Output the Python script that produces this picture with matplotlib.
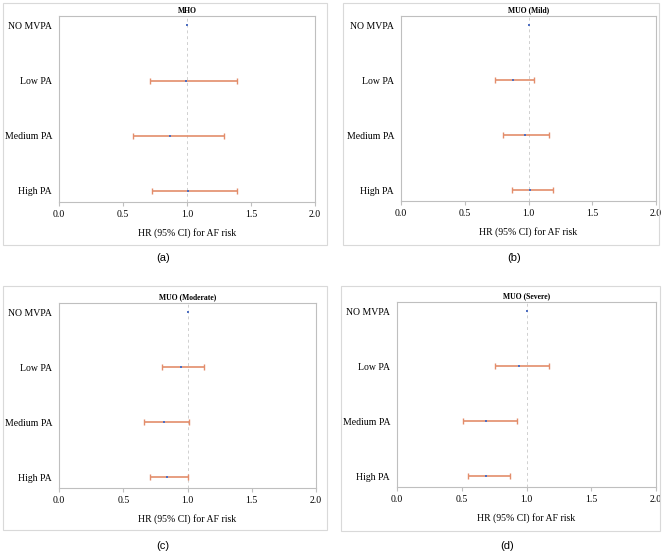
import numpy as np
import matplotlib.pyplot as plt
from matplotlib.patches import Rectangle

categories = ['NO MVPA', 'Low PA', 'Medium PA', 'High PA']

titles = ['MHO', 'MUO (Mild)', 'MUO (Moderate)', 'MUO (Severe)']
panel_tags = ['(a)', '(b)', '(c)', '(d)']

# hazard ratios and 95% CI per panel (order follows categories)
hr_a = [1.00, 0.99, 0.87, 1.01]
lo_a = [1.00, 0.71, 0.58, 0.73]
hi_a = [1.00, 1.39, 1.29, 1.39]

hr_b = [1.00, 0.88, 0.97, 1.01]
lo_b = [1.00, 0.74, 0.80, 0.87]
hi_b = [1.00, 1.04, 1.16, 1.19]

hr_c = [1.00, 0.95, 0.82, 0.84]
lo_c = [1.00, 0.80, 0.66, 0.71]
hi_c = [1.00, 1.13, 1.01, 1.00]

hr_d = [1.00, 0.94, 0.69, 0.69]
lo_d = [1.00, 0.76, 0.51, 0.55]
hi_d = [1.00, 1.17, 0.93, 0.87]

xticks = [0.0, 0.5, 1.0, 1.5, 2.0]

W, H = 669, 558
fig = plt.figure(figsize=(W / 100, H / 100), dpi=100)
fig.patch.set_facecolor('white')

# pixel boxes: (axes left, right, top, bottom), (border l, r, t, b), tag x, tag y
layout = [
    ((59, 315, 16, 202), (3, 327, 3, 245), 163, 258),
    ((401, 656, 16, 201), (343, 659, 3, 245), 514, 258),
    ((59, 316, 303, 488), (3, 327, 286, 530), 163, 546),
    ((397, 656, 302, 487), (341, 660, 286, 531), 507, 546),
]

data = [(hr_a, lo_a, hi_a), (hr_b, lo_b, hi_b), (hr_c, lo_c, hi_c), (hr_d, lo_d, hi_d)]

serif = 'Liberation Serif'
grey = '#BFBFBF'

for i in range(4):
    (al, ar, at, ab), (bl, br, bt, bb), tx, ty = layout[i]
    hr, lo, hi = data[i]

    fig.add_artist(Rectangle((bl / W, 1 - bb / H), (br - bl) / W, (bb - bt) / H,
                             transform=fig.transFigure, fill=False,
                             edgecolor='#D9D9D9', linewidth=0.8))

    ax = fig.add_axes([al / W, 1 - ab / H, (ar - al) / W, (ab - at) / H])
    ypos = np.arange(len(categories))[::-1]
    hr = np.array(hr)
    lo = np.array(lo)
    hi = np.array(hi)

    ax.axvline(1.0, color='#D0D0D0', linestyle=(0, (3, 3)), linewidth=0.7, zorder=1)

    # reference group has no interval
    has_ci = hi > lo
    ax.errorbar(hr[has_ci], ypos[has_ci],
                xerr=[hr[has_ci] - lo[has_ci], hi[has_ci] - hr[has_ci]], fmt='none',
                ecolor='#E38D6B', elinewidth=1.2, capsize=2.5, capthick=1.0, zorder=2)
    ax.plot(hr, ypos, 's', color='#4F6FC0', markersize=1.8, markeredgewidth=0, zorder=3)

    ax.set_xlim(0, 2)
    ax.set_ylim(-0.2, 3.17)
    ax.set_xticks(xticks)
    ax.set_xticklabels(['%.1f' % v for v in xticks], fontsize=7, family=serif)
    ax.set_yticks(ypos)
    ax.set_yticklabels(categories, fontsize=7, family=serif)
    ax.tick_params(axis='x', length=3, color=grey, pad=3)
    ax.tick_params(axis='y', length=0, pad=5)
    for s in ax.spines.values():
        s.set_color(grey)
        s.set_linewidth(0.8)

    ax.set_title(titles[i], fontsize=5.5, family=serif, fontweight='bold', pad=2.5)
    ax.set_xlabel('HR (95% CI) for AF risk', fontsize=7, family=serif, labelpad=6)

    fig.text(tx / W, 1 - ty / H, panel_tags[i], ha='center', va='center',
             fontsize=8, family='Liberation Sans')

plt.savefig('out.png', dpi=100)
